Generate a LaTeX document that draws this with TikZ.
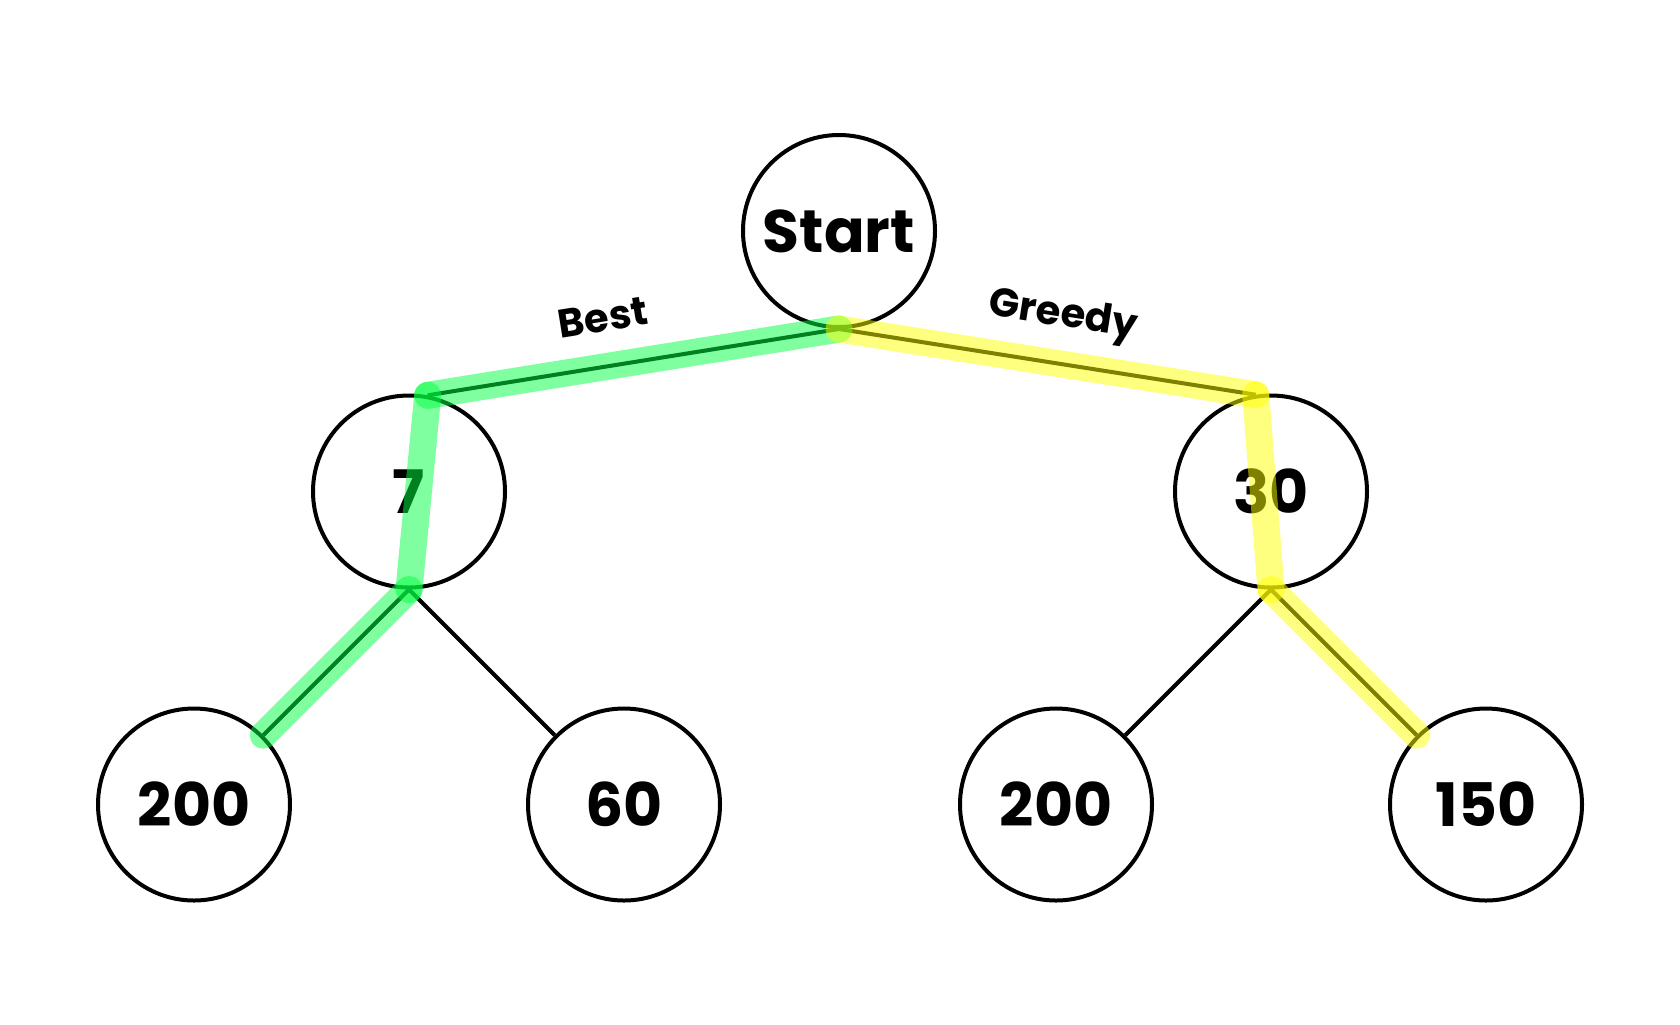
\documentclass[tikz,border=0pt]{standalone}
\usepackage{fontspec}
\setmainfont{Poppins}
\usetikzlibrary{positioning}

\definecolor{bestgreen}{RGB}{0,255,64}
\definecolor{greedyyellow}{RGB}{255,255,0}

\begin{document}
\begin{tikzpicture}[x=1pt, y=1pt, on grid,
        vertex/.style={circle, draw, line width=2pt, minimum size=96pt, inner sep=0pt, font=\fontsize{30}{36}\selectfont\bfseries},
        link/.style={draw, line width=2pt},
        glow/.style={line width=13.5pt, line cap=round, opacity=0.5},
        tag/.style={font=\fontsize{20}{24}\selectfont\bfseries, sloped, above=#1},
        tag/.default=13pt]

    \useasboundingbox (0,0) rectangle (840,-512);

    \node [vertex] (start) at (419.5,-115.5) {Start};
    \node [vertex, below left=130.25pt and 215pt of start] (n7) {7};
    \node [vertex, below right=130.25pt and 216pt of start] (n30) {30};
    \node [vertex, below left=156.5pt and 107.5pt of n7] (left200) {200};
    \node [vertex, below right=156.5pt and 107.5pt of n7] (n60) {60};
    \node [vertex, below left=156.5pt and 107.5pt of n30] (right200) {200};
    \node [vertex, below right=156.5pt and 107.5pt of n30] (n150) {150};

    \path [link] (start.south) -- node [tag, pos=0.555] {Best} (n7.79);
    \path [link] (start.south) -- node [tag=9pt, pos=0.52] {Greedy} (n30.99);
    \path [link] (n7.south) -- (left200.45);
    \path [link] (n7.south) -- (n60.135);
    \path [link] (n30.south) -- (right200.45);
    \path [link] (n30.south) -- (n150.135);

    % best path
    \draw [glow, bestgreen] (start.south) -- (n7.79);
    \draw [glow, bestgreen] (n7.79) -- (n7.south);
    \draw [glow, bestgreen] (n7.south) -- (left200.45);

    % greedy path
    \draw [glow, greedyyellow] (start.south) -- (n30.99);
    \draw [glow, greedyyellow] (n30.99) -- (n30.south);
    \draw [glow, greedyyellow] (n30.south) -- (n150.135);
\end{tikzpicture}
\end{document}
